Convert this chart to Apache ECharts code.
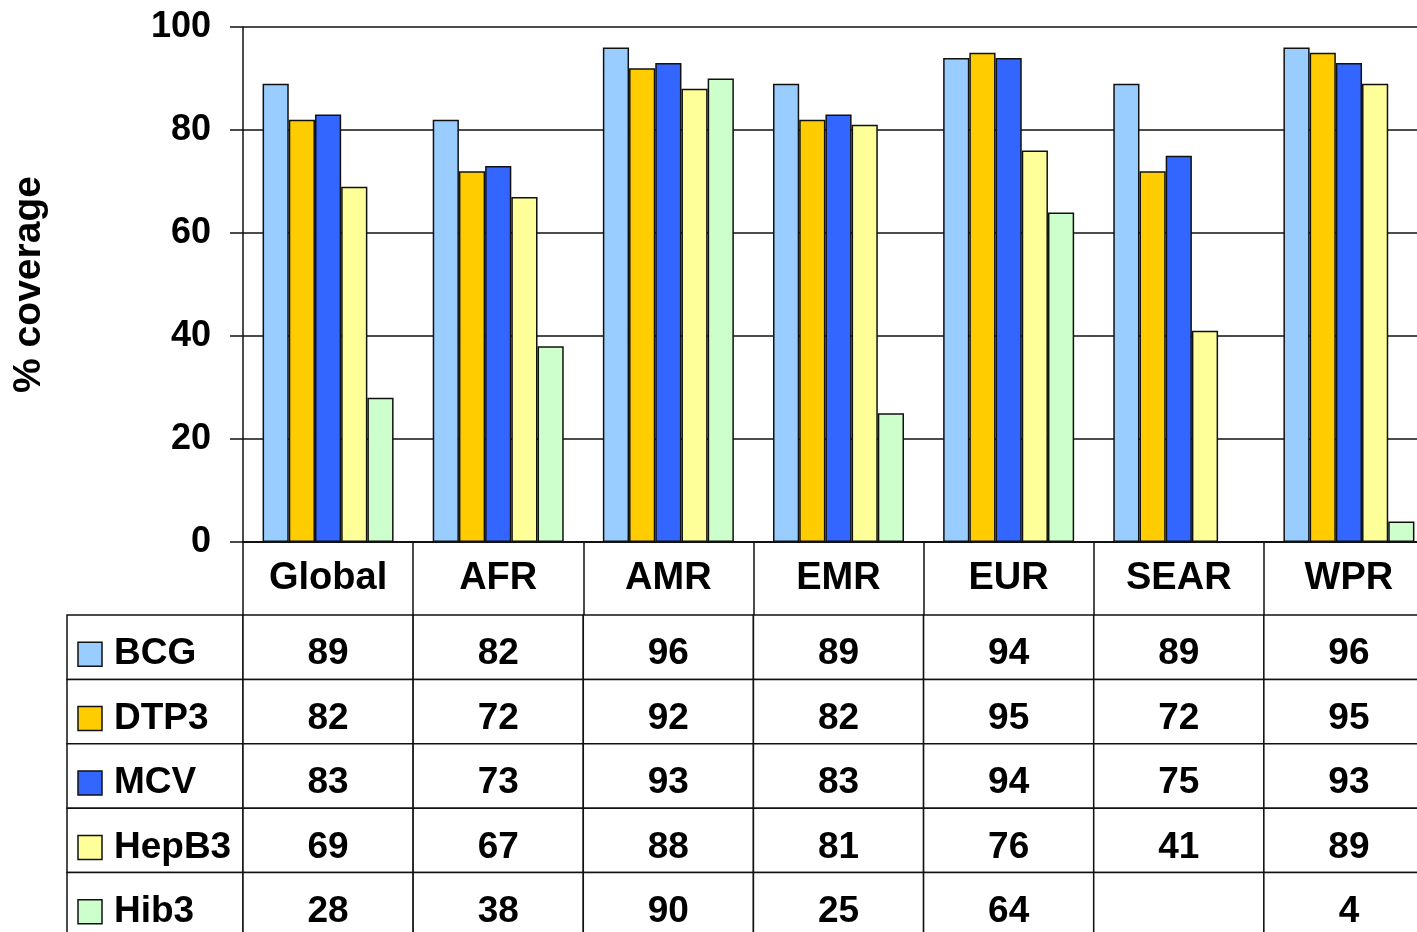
<!DOCTYPE html>
<html>
<head>
<meta charset="utf-8">
<script src="https://cdn.jsdelivr.net/npm/echarts@6/dist/echarts.min.js"></script>
<style>
html,body{margin:0;padding:0;background:#fff;}
#chart{width:1417px;height:932px;}
</style>
</head>
<body>
<div id="chart"></div>
<script>
// ---- data ----
var categories = ['Global', 'AFR', 'AMR', 'EMR', 'EUR', 'SEAR', 'WPR'];
var seriesNames = ['BCG', 'DTP3', 'MCV', 'HepB3', 'Hib3'];
var BCG   = [89, 82, 96, 89, 94, 89, 96];
var DTP3  = [82, 72, 92, 82, 95, 72, 95];
var MCV   = [83, 73, 93, 83, 94, 75, 93];
var HepB3 = [69, 67, 88, 81, 76, 41, 89];
var Hib3  = [28, 38, 90, 25, 64, null, 4];
var yTicks = [0, 20, 40, 60, 80, 100];
var colors = ['#99CCFF', '#FFCC00', '#3366FF', '#FFFF99', '#CCFFCC'];
var yAxisTitle = '% coverage';

var allSeries = [BCG, DTP3, MCV, HepB3, Hib3];
var FONT = '"Liberation Sans", Arial, sans-serif';

var chart = echarts.init(document.getElementById('chart'));

var barSeries = seriesNames.map(function (n, i) {
  return {
    name: n, type: 'bar', xAxisIndex: 0, yAxisIndex: 0,
    data: allSeries[i],
    barGap: '0%', barCategoryGap: '23%',
    itemStyle: { color: colors[i], borderColor: '#111', borderWidth: 1.5 },
    silent: true
  };
});

// table cell data
var valueCells = [];
seriesNames.forEach(function (n, i) {
  categories.forEach(function (c, j) { valueCells.push([j, i]); });
});
var labelCells = seriesNames.map(function (n, i) { return [0, i]; });

var tableSeries = {
  type: 'custom', xAxisIndex: 2, yAxisIndex: 2, silent: true, clip: false,
  data: valueCells,
  renderItem: function (params, api) {
    var xi = api.value(0), yi = api.value(1);
    var c = api.coord([xi, yi]);
    var s = api.size([1, 1]);
    var v = allSeries[yi][xi];
    return {
      type: 'group',
      children: [
        { type: 'rect', shape: { x: c[0] - s[0] / 2, y: c[1] - s[1] / 2, width: s[0], height: s[1] },
          style: { fill: '#fff', stroke: '#111', lineWidth: 1.5 } },
        { type: 'text', style: { text: v == null ? '' : String(v), x: c[0], y: c[1] + 7,
          align: 'center', verticalAlign: 'middle', fill: '#000',
          font: 'bold 37px ' + FONT } }
      ]
    };
  }
};

var legendColSeries = {
  type: 'custom', xAxisIndex: 1, yAxisIndex: 1, silent: true, clip: false,
  data: labelCells,
  renderItem: function (params, api) {
    var xi = api.value(0), yi = api.value(1);
    var c = api.coord([xi, yi]);
    var s = api.size([1, 1]);
    var left = c[0] - s[0] / 2;
    return {
      type: 'group',
      children: [
        { type: 'rect', shape: { x: left, y: c[1] - s[1] / 2, width: s[0], height: s[1] },
          style: { fill: '#fff', stroke: '#111', lineWidth: 1.5 } },
        { type: 'rect', shape: { x: left + 11, y: c[1] - 5, width: 24, height: 24 },
          style: { fill: colors[yi], stroke: '#111', lineWidth: 1.5 } },
        { type: 'text', style: { text: seriesNames[yi], x: left + 47, y: c[1] + 7,
          align: 'left', verticalAlign: 'middle', fill: '#000',
          font: 'bold 37px ' + FONT } }
      ]
    };
  }
};

var option = {
  backgroundColor: '#fff',
  animation: false,
  textStyle: { fontFamily: FONT },
  grid: [
    { left: 243, top: 27, width: 1191, height: 515, outerBoundsMode: 'none', containLabel: false },
    { left: 67, top: 615, width: 176, height: 322, outerBoundsMode: 'none', containLabel: false },
    { left: 243, top: 615, width: 1191, height: 322, outerBoundsMode: 'none', containLabel: false }
  ],
  xAxis: [
    {
      gridIndex: 0, type: 'category', data: categories,
      axisLine: { show: true, lineStyle: { color: '#111', width: 2 } },
      axisTick: { show: true, interval: 0, length: 73, lineStyle: { color: '#111', width: 1.5 } },
      axisLabel: { interval: 0, color: '#000', fontWeight: 'bold', fontSize: 38, fontFamily: FONT,
        margin: 37, verticalAlign: 'middle' },
      splitLine: { show: false }
    },
    { gridIndex: 1, type: 'category', data: [''], show: false },
    { gridIndex: 2, type: 'category', data: categories, show: false }
  ],
  yAxis: [
    {
      gridIndex: 0, type: 'value', min: yTicks[0], max: yTicks[yTicks.length - 1], interval: 20,
      name: yAxisTitle, nameLocation: 'middle', nameRotate: 90, nameGap: 194,
      nameTextStyle: { color: '#000', fontWeight: 'bold', fontSize: 39, fontFamily: FONT },
      axisLine: { show: true, lineStyle: { color: '#111', width: 1.5 } },
      axisTick: { show: true, inside: false, length: 13, lineStyle: { color: '#111', width: 1.5 } },
      axisLabel: { color: '#000', fontWeight: 'bold', fontSize: 36, fontFamily: FONT, margin: 32 },
      splitLine: { show: true, lineStyle: { color: '#111', width: 1.5 } }
    },
    { gridIndex: 1, type: 'category', data: seriesNames, inverse: true, show: false },
    { gridIndex: 2, type: 'category', data: seriesNames, inverse: true, show: false }
  ],
  series: barSeries.concat([legendColSeries, tableSeries])
};

chart.setOption(option);
</script>
</body>
</html>
